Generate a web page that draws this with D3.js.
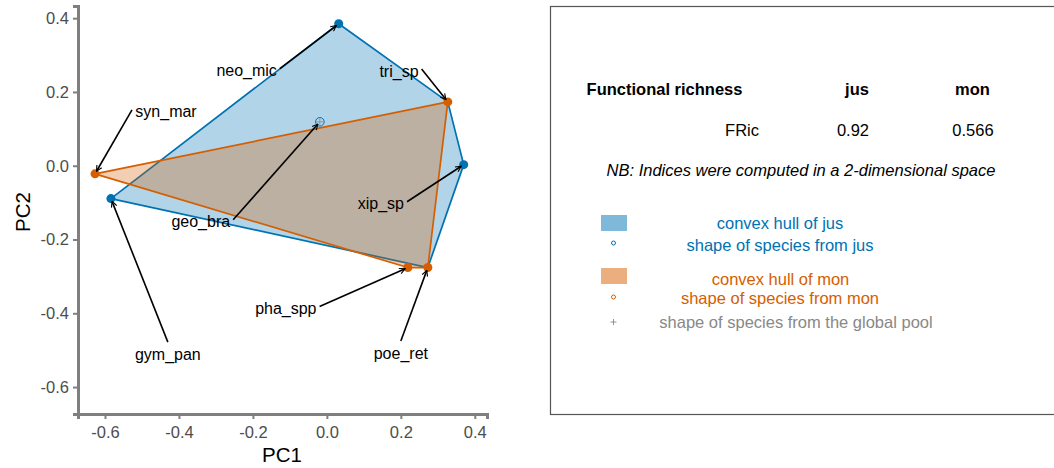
<!DOCTYPE html>
<html>
<head>
<meta charset="utf-8">
<script src="https://cdn.jsdelivr.net/npm/d3@7"></script>
<style>
  html, body { margin: 0; padding: 0; background: #fff; }
  svg { display: block; font-family: "Liberation Sans", Arial, sans-serif; }
</style>
</head>
<body>
<svg id="chart" width="1054" height="468"></svg>
<script>
// Species coordinates in the 2D functional space (PC1, PC2)
const species = ["neo_mic", "tri_sp", "xip_sp", "poe_ret", "pha_spp", "gym_pan", "syn_mar", "geo_bra"];
const pc1 = [0.032, 0.327, 0.370, 0.273, 0.219, -0.584, -0.627, -0.019];
const pc2 = [0.385, 0.173, 0.003, -0.276, -0.276, -0.089, -0.022, 0.119];

// Assemblage membership and hull vertices
const jusSpecies = ["neo_mic", "tri_sp", "xip_sp", "poe_ret", "pha_spp", "gym_pan", "geo_bra"];
const monSpecies = ["tri_sp", "poe_ret", "pha_spp", "syn_mar"];
const jusVertices = ["neo_mic", "tri_sp", "xip_sp", "poe_ret", "gym_pan"];
const monVertices = ["syn_mar", "tri_sp", "poe_ret", "pha_spp"];

// Repelled label offsets from each species point, in PC units
const labelDx = [-0.249, -0.132, -0.224, -0.073, -0.330, 0.154, 0.192, -0.322];
const labelDy = [-0.127, 0.084, -0.106, -0.233, -0.111, -0.423, 0.168, -0.271];

// Functional richness table
const tableHeader = ["Functional richness", "jus", "mon"];
const tableRow = ["FRic", "0.92", "0.566"];
const note = "NB: Indices were computed in a 2-dimensional space";

const xTicks = [-0.6, -0.4, -0.2, 0.0, 0.2, 0.4];
const yTicks = [-0.6, -0.4, -0.2, 0.0, 0.2, 0.4];
const domain = [-0.673, 0.433];

const colJus = "#0072B2", colMon = "#D55E00", colPool = "#888888";

const svg = d3.select("#chart");
const x = d3.scaleLinear().domain(domain).range([78, 487]);
const y = d3.scaleLinear().domain(domain).range([414, 6]);

const pts = {};
species.forEach((s, i) => pts[s] = { name: s, x: pc1[i], y: pc2[i], dx: labelDx[i], dy: labelDy[i] });

// Convex hulls
const hullPath = names => "M" + names.map(n => [x(pts[n].x), y(pts[n].y)].join(",")).join("L") + "Z";
svg.append("path").attr("d", hullPath(jusVertices))
  .attr("fill", colJus).attr("fill-opacity", 0.3)
  .attr("stroke", colJus).attr("stroke-width", 1.7).attr("stroke-linejoin", "round");
svg.append("path").attr("d", hullPath(monVertices))
  .attr("fill", colMon).attr("fill-opacity", 0.3)
  .attr("stroke", colMon).attr("stroke-width", 1.7).attr("stroke-linejoin", "round");

// Species of jus that are not vertices: hollow circle with a pool cross
jusSpecies.filter(s => !jusVertices.includes(s) && !monSpecies.includes(s)).forEach(s => {
  const cx = x(pts[s].x), cy = y(pts[s].y);
  svg.append("circle").attr("cx", cx).attr("cy", cy).attr("r", 4.3)
    .attr("fill", "none").attr("stroke", colJus).attr("stroke-width", 1);
  svg.append("path").attr("d", `M${cx - 4},${cy}H${cx + 4}M${cx},${cy - 4}V${cy + 4}`)
    .attr("stroke", colPool).attr("stroke-width", 0.8);
});

// Hull vertices
jusVertices.filter(s => !monVertices.includes(s)).forEach(s => {
  svg.append("circle").attr("cx", x(pts[s].x)).attr("cy", y(pts[s].y)).attr("r", 4.5).attr("fill", colJus);
});
monVertices.forEach(s => {
  svg.append("circle").attr("cx", x(pts[s].x)).attr("cy", y(pts[s].y)).attr("r", 4.5).attr("fill", colMon);
});

// Axes
const fmt = d => d.toFixed(1);
const gx = svg.append("g").attr("transform", "translate(0,414)")
  .call(d3.axisBottom(x).tickValues(xTicks).tickFormat(fmt).tickSize(5).tickPadding(4));
const gy = svg.append("g").attr("transform", "translate(78,0)")
  .call(d3.axisLeft(y).tickValues(yTicks).tickFormat(fmt).tickSize(5).tickPadding(4));
[gx, gy].forEach(g => {
  g.select(".domain").attr("stroke", "#7f7f7f").attr("stroke-width", 3);
  g.selectAll(".tick line").attr("stroke", "#7f7f7f").attr("stroke-width", 2);
  g.selectAll(".tick text").attr("fill", "#4d4d4d").style("font-size", "16.5px")
    .style("font-family", "Liberation Sans, Arial, sans-serif");
});
gx.selectAll(".tick text").attr("dy", "0.9em");
svg.append("text").attr("x", 282).attr("y", 462).attr("text-anchor", "middle")
  .style("font-size", "20.5px").attr("fill", "#000").text("PC1");
svg.append("text").attr("transform", "translate(30,212) rotate(-90)").attr("text-anchor", "middle")
  .style("font-size", "20.5px").attr("fill", "#000").text("PC2");

// Species labels with arrows pointing at their points
const defs = svg.append("defs");
defs.append("marker").attr("id", "arr").attr("viewBox", "0 0 10 10").attr("refX", 9).attr("refY", 5)
  .attr("markerWidth", 7).attr("markerHeight", 7).attr("markerUnits", "userSpaceOnUse")
  .attr("orient", "auto")
  .append("path").attr("d", "M1,1L9,5L1,9").attr("fill", "none").attr("stroke", "#000").attr("stroke-width", 1.6);

species.forEach(s => {
  const p = pts[s];
  const px = x(p.x), py = y(p.y);
  const tx = x(p.x + p.dx), ty = y(p.y + p.dy);
  const t = svg.append("text").attr("x", tx).attr("y", ty).attr("dy", "0.35em")
    .attr("text-anchor", "middle").style("font-size", "16px").attr("fill", "#000").text(s);
  const bb = t.node().getBBox();
  const vx = px - tx, vy = py - ty;
  // segment leaves from the middle of the side facing the point
  let sx, sy;
  if (Math.abs(vx) > Math.abs(vy)) {
    sx = tx + Math.sign(vx) * (bb.width / 2 + 3);
    sy = ty - 2;
  } else {
    sx = tx;
    sy = ty + (vy < 0 ? -12.5 : 10);
  }
  const wx = px - sx, wy = py - sy, len = Math.hypot(wx, wy);
  const ex = px - wx / len * 3, ey = py - wy / len * 3;
  svg.append("line").attr("x1", sx).attr("y1", sy).attr("x2", ex).attr("y2", ey)
    .attr("stroke", "#000").attr("stroke-width", 1.6).attr("marker-end", "url(#arr)");
});

// Right panel: indices table and legend
svg.append("rect").attr("x", 550.5).attr("y", 6.5).attr("width", 510).attr("height", 408)
  .attr("fill", "none").attr("stroke", "#555").attr("stroke-width", 1.2);

const headX = [664.5, 857, 972.5];
tableHeader.forEach((h, i) => {
  svg.append("text").attr("x", headX[i]).attr("y", 95).attr("text-anchor", "middle")
    .style("font-size", "16.5px").style("font-weight", "bold").attr("fill", "#000").text(h);
});
const rowX = [759, 853, 973];
svg.append("text").attr("x", rowX[0]).attr("y", 136).attr("text-anchor", "end")
  .style("font-size", "16.5px").attr("fill", "#000").text(tableRow[0]);
tableRow.slice(1).forEach((v, i) => {
  svg.append("text").attr("x", rowX[i + 1]).attr("y", 136).attr("text-anchor", "middle")
    .style("font-size", "16.5px").attr("fill", "#000").text(v);
});
svg.append("text").attr("x", 801).attr("y", 176).attr("text-anchor", "middle")
  .style("font-size", "16.5px").style("font-style", "italic").attr("fill", "#000").text(note);

// Legend entries
const legendItems = [
  { key: "rect", color: colJus, label: "convex hull of jus", symY: 223, y: 223, tx: 780 },
  { key: "circle", color: colJus, label: "shape of species from jus", symY: 243, y: 245, tx: 780 },
  { key: "rect", color: colMon, label: "convex hull of mon", symY: 276, y: 279.5, tx: 780.5 },
  { key: "circle", color: colMon, label: "shape of species from mon", symY: 297, y: 298, tx: 780 },
  { key: "plus", color: colPool, label: "shape of species from the global pool", symY: 322, y: 322.5, tx: 796 }
];
legendItems.forEach(d => {
  if (d.key === "rect") {
    svg.append("rect").attr("x", 601).attr("y", d.symY - 8).attr("width", 26).attr("height", 16)
      .attr("fill", d.color).attr("fill-opacity", 0.5);
  } else if (d.key === "circle") {
    svg.append("circle").attr("cx", 613.5).attr("cy", d.symY).attr("r", 2)
      .attr("fill", "none").attr("stroke", d.color).attr("stroke-width", 1);
  } else {
    svg.append("path").attr("d", `M${610.5},${d.symY}H${616.5}M${613.5},${d.symY - 3}V${d.symY + 3}`)
      .attr("stroke", d.color).attr("stroke-width", 0.9);
  }
  svg.append("text").attr("x", d.tx).attr("y", d.y).attr("dy", "0.35em").attr("text-anchor", "middle")
    .style("font-size", "16.5px").attr("fill", d.color).text(d.label);
});
</script>
</body>
</html>
